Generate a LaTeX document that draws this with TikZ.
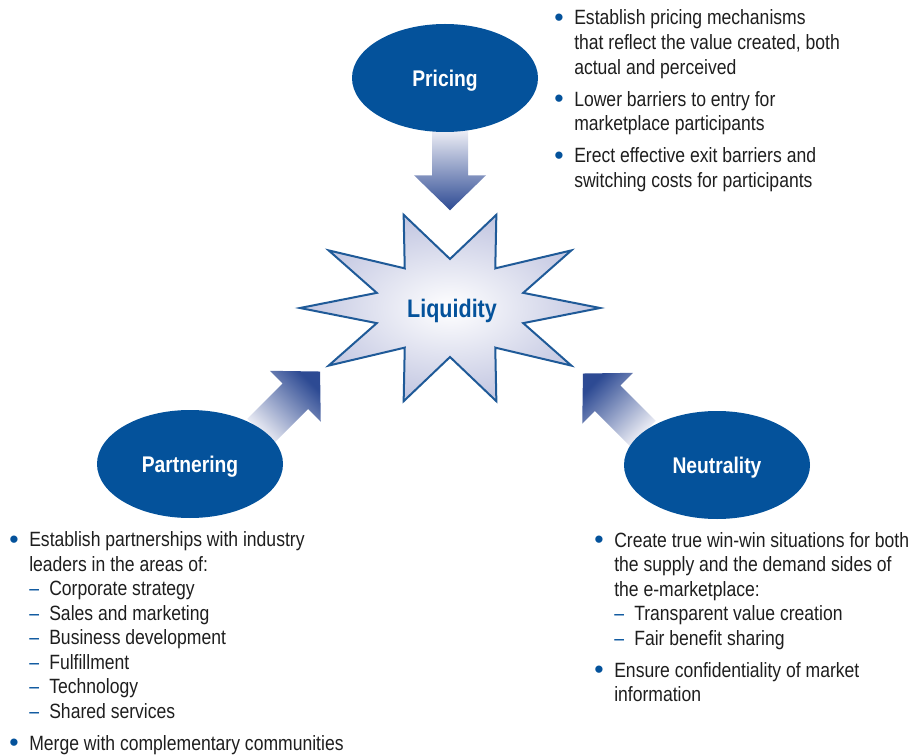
\documentclass[tikz,border=0pt]{standalone}
\usepackage{fontspec}
\setmainfont{Liberation Sans}[FakeStretch=0.85]
\newfontfamily\dotfont{Liberation Sans}
\usetikzlibrary{shapes, calc, positioning, backgrounds}
\definecolor{mainblue}{HTML}{04529B}
\definecolor{starline}{HTML}{1F5A98}
\definecolor{starfill}{HTML}{C2C6E1}
\definecolor{arrowdark}{HTML}{2D4A93}
\definecolor{arrowmid}{HTML}{9496C6}
\definecolor{arrowlight}{HTML}{F2F2F8}
\definecolor{bodytext}{HTML}{1E1E1E}
\tikzstyle{pillar} = [ellipse, fill=mainblue, text=white, font=\fontsize{17}{20}\selectfont\bfseries, minimum width=139.5pt, minimum height=81pt, inner sep=0pt, text height=12.2pt, text depth=0pt]
\tikzstyle{blockarrow} = [top color=arrowlight, middle color=arrowmid, bottom color=arrowdark]
\tikzstyle{burst} = [inner color=white, outer color=starfill, draw=starline, line width=1.5pt, line join=miter]
\tikzstyle{bullets} = [anchor=base west, inner sep=0pt, text=bodytext, font=\fontsize{15.5}{18.4}\selectfont]
\newcommand{\bul}{\makebox[12pt][l]{\hspace{-3pt}\raisebox{-1.3pt}{\dotfont\fontsize{20}{20}\selectfont\textcolor{mainblue}{\textbullet}}}}
\newcommand{\cont}{\hspace{12pt}}
\newcommand{\dsh}{\hspace{12pt}\makebox[15pt][l]{\textcolor{mainblue}{\textendash}}}
% block arrow: start, direction, length, shading angle
\newcommand{\blockarrow}[4]{%
  \begin{scope}[shift={#1}, rotate=#2]
    \shade[blockarrow, shading angle=#4] (0,-18) -- (#3-35,-18) -- (#3-35,-36) -- (#3,0) -- (#3-35,36) -- (#3-35,18) -- (0,18) -- cycle;
  \end{scope}}

\begin{document}
\begin{tikzpicture}[x=0.75pt, y=-0.75pt]
	\useasboundingbox (0,0) rectangle (909,755);

	% the three drivers
	\node[pillar] (pricing) at (445,78) {Pricing};
	\node[pillar] (partnering) at (190,464) {Partnering};
	\node[pillar] (neutrality) at (717,465) {Neutrality};

	% arrows into the star
	\begin{scope}[on background layer]
		\blockarrow{($(pricing.south)+(5,-4)$)}{-90}{82}{0}
		\blockarrow{($(partnering.north east)+(4,6)$)}{45}{85}{135}
		\blockarrow{($(neutrality.north west)+(-8,7)$)}{135}{85}{-135}
	\end{scope}

	% the star
	\shade[burst, shift={(450,308)}] (0:150 and 98)
		\foreach \a in {0,36,...,324}{ -- (\a+18:77 and 49) -- (\a+36:150 and 98)} -- cycle;
	\node[text=mainblue, font=\fontsize{19}{22}\selectfont\bfseries, text height=13.6pt, text depth=0pt] (liq) at (452,308) {Liquidity};

	% the texts
	\node[bullets] (pricetext) at (558,25) {\begin{tabular}[t]{@{}l@{}}
		\bul Establish pricing mechanisms\\
		\cont that reflect the value created, both\\
		\cont actual and perceived\\[5.6pt]
		\bul Lower barriers to entry for\\
		\cont marketplace participants\\[5.6pt]
		\bul Erect effective exit barriers and\\
		\cont switching costs for participants
	\end{tabular}};
	\node[bullets] (parttext) at (13,546.5) {\begin{tabular}[t]{@{}l@{}}
		\bul Establish partnerships with industry\\
		\cont leaders in the areas of:\\
		\dsh Corporate strategy\\
		\dsh Sales and marketing\\
		\dsh Business development\\
		\dsh Fulfillment\\
		\dsh Technology\\
		\dsh Shared services\\[5.6pt]
		\bul Merge with complementary communities
	\end{tabular}};
	\node[bullets] (neuttext) at (598,547) {\begin{tabular}[t]{@{}l@{}}
		\bul Create true win-win situations for both\\
		\cont the supply and the demand sides of\\
		\cont the e-marketplace:\\
		\dsh Transparent value creation\\
		\dsh Fair benefit sharing\\[5.6pt]
		\bul Ensure confidentiality of market\\
		\cont information
	\end{tabular}};
\end{tikzpicture}
\end{document}
